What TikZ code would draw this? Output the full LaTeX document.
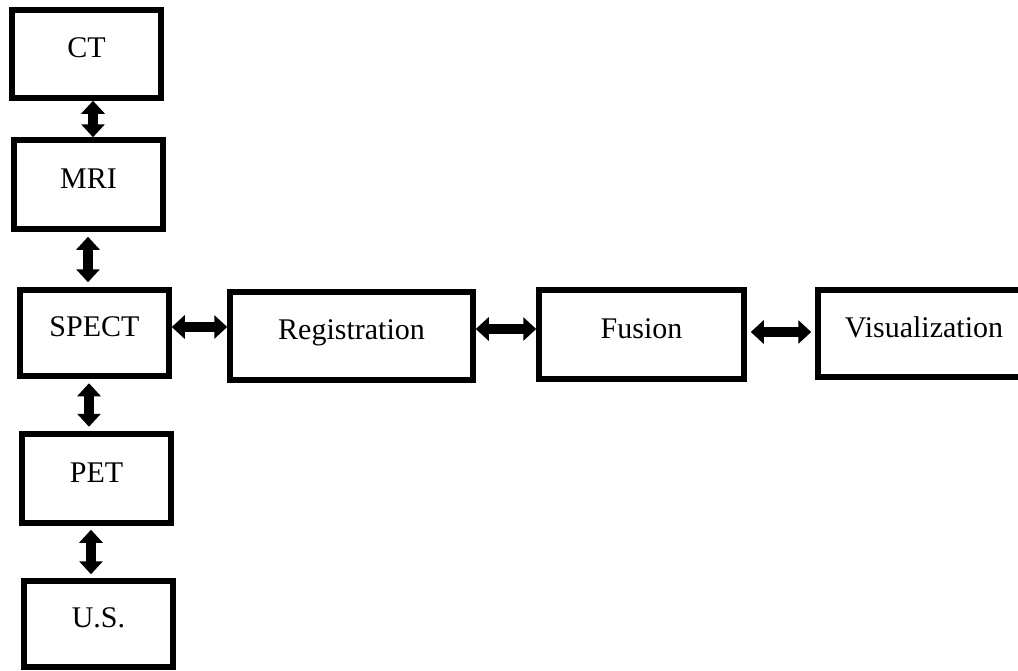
\documentclass[tikz,border=0pt]{standalone}
\usepackage{fontspec}
\setmainfont{Liberation Serif}
\usetikzlibrary{arrows.meta,calc}
\begin{document}
\begin{tikzpicture}[x=1pt,y=-1pt,
  box/.style={draw=black, line width=5.5pt, fill=white, inner sep=0pt,
    minimum width=149pt, minimum height=88pt,
    text height=21pt, text depth=14pt,
    font=\fontsize{30}{36}\selectfont},
  biarrow/.style={line width=9.5pt,
    {Triangle[width=23pt,length=13pt]}-{Triangle[width=23pt,length=13pt]}},
  gap/.style={shorten <=#1, shorten >=#1}]
  \clip (0,0) rectangle (1018,670);
  \fill[white] (0,0) rectangle (1018,670);

  % imaging modalities, stacked on the left
  \node[box] (ct)    at (86.5,54)    {CT};
  \node[box, minimum height=89pt] (mri)   at (88.5,184.5) {MRI};
  \node[box, minimum height=86pt] (spect) at (94.5,333)   {SPECT};
  \node[box, minimum height=89pt] (pet)   at (96.5,478.5) {PET};
  \node[box, minimum height=86pt] (us)    at (98.5,624)   {U.S.};

  % processing chain
  \node[box, minimum width=243pt] (reg) at (351.5,336) {Registration};
  \node[box, minimum width=205pt, minimum height=89pt] (fus) at (641.5,334.5) {Fusion};
  \node[box, minimum width=212pt, minimum height=87pt] (vis) at (924,333.5) {Visualization};

  % vertical links
  \draw[biarrow] ([xshift=6.5pt]ct.south) -- ([xshift=4.5pt]mri.north);
  \draw[biarrow, gap=5pt] ([xshift=-0.5pt]mri.south) -- ([xshift=-6.5pt]spect.north);
  \draw[biarrow, gap=4.5pt] ([xshift=-5.5pt]spect.south) -- ([xshift=-7.5pt]pet.north);
  \draw[biarrow, gap=4pt] ([xshift=-5.5pt]pet.south) -- ([xshift=-7.5pt]us.north);

  % horizontal links
  \draw[biarrow] ([yshift=6pt]spect.east) -- ([yshift=9pt]reg.west);
  \draw[biarrow] ([yshift=7pt]reg.east) -- ([yshift=5.5pt]fus.west);
  \draw[biarrow, gap=4pt] ([yshift=2.5pt]fus.east) -- ([yshift=1.5pt]vis.west);
\end{tikzpicture}
\end{document}
